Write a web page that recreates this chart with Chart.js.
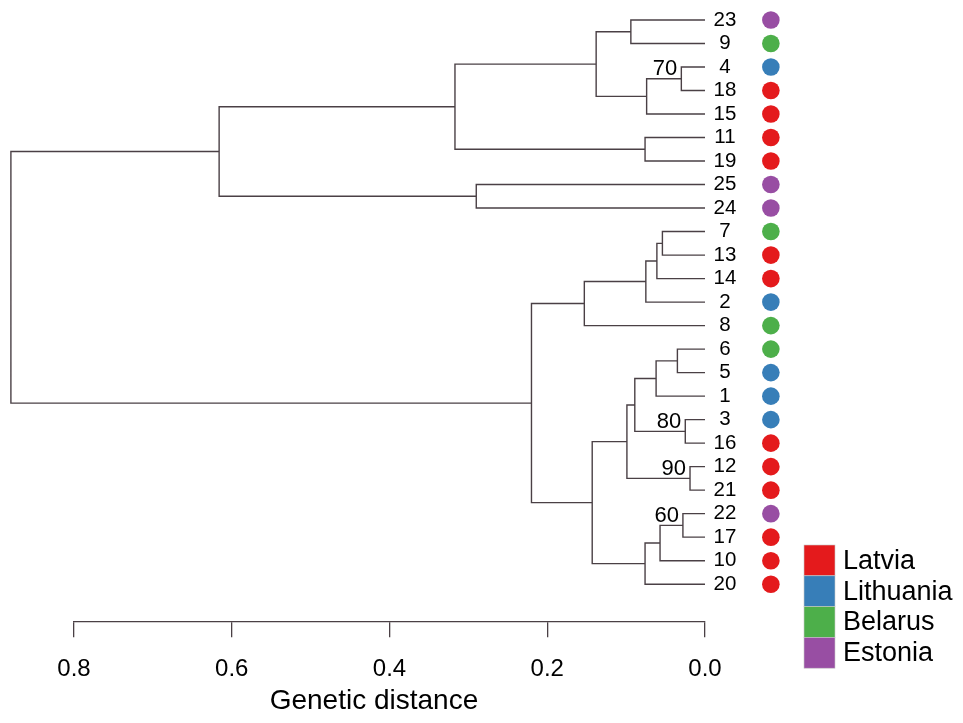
<!DOCTYPE html>
<html>
<head>
<meta charset="utf-8">
<script src="https://cdn.jsdelivr.net/npm/chart.js@4.4.1/dist/chart.umd.min.js"></script>
<style>
  html, body { margin: 0; padding: 0; background: #fff; }
  #wrap { width: 963px; height: 723px; }
</style>
</head>
<body>
<div id="wrap"><canvas id="dendro"></canvas></div>
<script>
// leaves, top to bottom
const leafLabels = ['23','9','4','18','15','11','19','25','24','7','13','14','2','8','6','5','1','3','16','12','21','22','17','10','20'];
const leafCountry = ['Estonia','Belarus','Lithuania','Latvia','Latvia','Latvia','Latvia','Estonia','Estonia','Belarus','Latvia','Latvia','Lithuania','Belarus','Belarus','Lithuania','Lithuania','Lithuania','Latvia','Latvia','Latvia','Estonia','Latvia','Latvia','Latvia'];
const countries = ['Latvia','Lithuania','Belarus','Estonia'];
const countryColors = ['#e41a1c','#377eb8','#4daf4a','#984ea3'];

// merges: leaf label or 'mN' (N-th merge, 1-based)
const mergeLeft   = ['23','4','m2','m1','11','m4','25','m6','7','m9','m10','m11','6','m13','3','m14','12','m16','22','m19','m20','m18','m12','m8'];
const mergeRight  = ['9','18','15','m3','19','m5','24','m7','13','14','2','8','5','1','16','m15','21','m17','17','10','20','m21','m22','m23'];
const mergeHeight = [0.094,0.030,0.074,0.138,0.076,0.317,0.290,0.616,0.054,0.061,0.075,0.153,0.035,0.062,0.025,0.089,0.019,0.099,0.028,0.057,0.076,0.143,0.220,0.880];
const mergeSupport = [null,70,null,null,null,null,null,null,null,null,null,null,null,null,80,null,90,null,60,null,null,null,null,null];

const tickValues = [0.8, 0.6, 0.4, 0.2, 0.0];

const LINE = '#4a4045';
const DOT_X = -0.0835;   // dot column, right of the leaf labels
const FONT = '"Liberation Sans", Arial, sans-serif';

// build the branch segments
const nodeX = {}, nodeY = {};
leafLabels.forEach((l, i) => { nodeX[l] = 0; nodeY[l] = i; });
const branchPts = [];
const supportMarks = [];
mergeHeight.forEach((h, k) => {
    const a = mergeLeft[k], b = mergeRight[k];
    branchPts.push(
        { x: nodeX[a], y: nodeY[a] },
        { x: h, y: nodeY[a] },
        { x: h, y: nodeY[b] },
        { x: nodeX[b], y: nodeY[b] },
        { x: null, y: null }
    );
    const id = 'm' + (k + 1);
    nodeX[id] = h;
    nodeY[id] = (nodeY[a] + nodeY[b]) / 2;
    if (mergeSupport[k] !== null) {
        supportMarks.push({ x: h, y: Math.min(nodeY[a], nodeY[b]), v: mergeSupport[k] });
    }
});

const dotColors = leafCountry.map(c => countryColors[countries.indexOf(c)]);

// leaf labels, country dots, support values and the country key
// (drawn here because they sit outside the chart area)
const treeText = {
    id: 'treeText',
    afterDatasetsDraw(chart) {
        const { ctx, scales: { x, y } } = chart;
        ctx.save();
        ctx.textBaseline = 'middle';

        ctx.font = '20.5px ' + FONT;
        ctx.textAlign = 'center';
        ctx.fillStyle = '#000';
        const labelX = x.getPixelForValue(0) + 20;
        leafLabels.forEach((l, i) => ctx.fillText(l, labelX, y.getPixelForValue(i)));

        const dotX = x.getPixelForValue(DOT_X);
        leafLabels.forEach((l, i) => {
            ctx.beginPath();
            ctx.arc(dotX, y.getPixelForValue(i), 8.8, 0, Math.PI * 2);
            ctx.fillStyle = dotColors[i];
            ctx.fill();
        });

        ctx.fillStyle = '#000';
        ctx.font = '22px ' + FONT;
        ctx.textAlign = 'right';
        supportMarks.forEach(m => {
            ctx.fillText(String(m.v), x.getPixelForValue(m.x) - 4, y.getPixelForValue(m.y) + 2);
        });

        // key
        const boxX = 804, boxW = 31, boxH = 30.8, boxTop = 545;
        ctx.font = '27px ' + FONT;
        ctx.textAlign = 'left';
        countries.forEach((c, i) => {
            const top = boxTop + i * boxH;
            ctx.fillStyle = countryColors[i];
            ctx.fillRect(boxX, top, boxW, boxH);
            ctx.strokeStyle = '#c8c8c8';
            ctx.lineWidth = 0.6;
            ctx.strokeRect(boxX, top, boxW, boxH);
            ctx.fillStyle = '#000';
            ctx.fillText(c, boxX + 39, top + boxH / 2 + 1);
        });
        ctx.restore();
    }
};

Chart.defaults.font.family = FONT;
Chart.defaults.color = '#000';

new Chart(document.getElementById('dendro'), {
    type: 'scatter',
    data: {
        datasets: [{
            label: 'branches',
            data: branchPts,
            showLine: true,
            spanGaps: false,
            borderColor: LINE,
            borderWidth: 1.4,
            pointRadius: 0,
            clip: false
        }]
    },
    options: {
        responsive: true,
        maintainAspectRatio: false,
        animation: false,
        layout: { autoPadding: false, padding: { left: 74, right: 258, top: 0, bottom: 5.2 } },
        plugins: { legend: { display: false }, tooltip: { enabled: false } },
        scales: {
            x: {
                type: 'linear',
                reverse: true,
                min: 0,
                max: 0.8,
                afterBuildTicks: scale => { scale.ticks = tickValues.map(v => ({ value: v })); },
                ticks: {
                    callback: v => Number(v).toFixed(1),
                    font: { size: 24 },
                    padding: 18,
                    maxRotation: 0
                },
                grid: { drawOnChartArea: false, drawTicks: true, tickLength: 16, color: LINE, lineWidth: 1.3 },
                border: { display: true, color: LINE, width: 1.3 },
                title: { display: true, text: 'Genetic distance    ', font: { size: 28 }, padding: { top: -17.8, bottom: 0 } }
            },
            y: {
                type: 'linear',
                reverse: true,
                display: false,
                min: -20 / 23.5,
                max: -20 / 23.5 + 621 / 23.5
            }
        }
    },
    plugins: [treeText]
});
</script>
</body>
</html>
